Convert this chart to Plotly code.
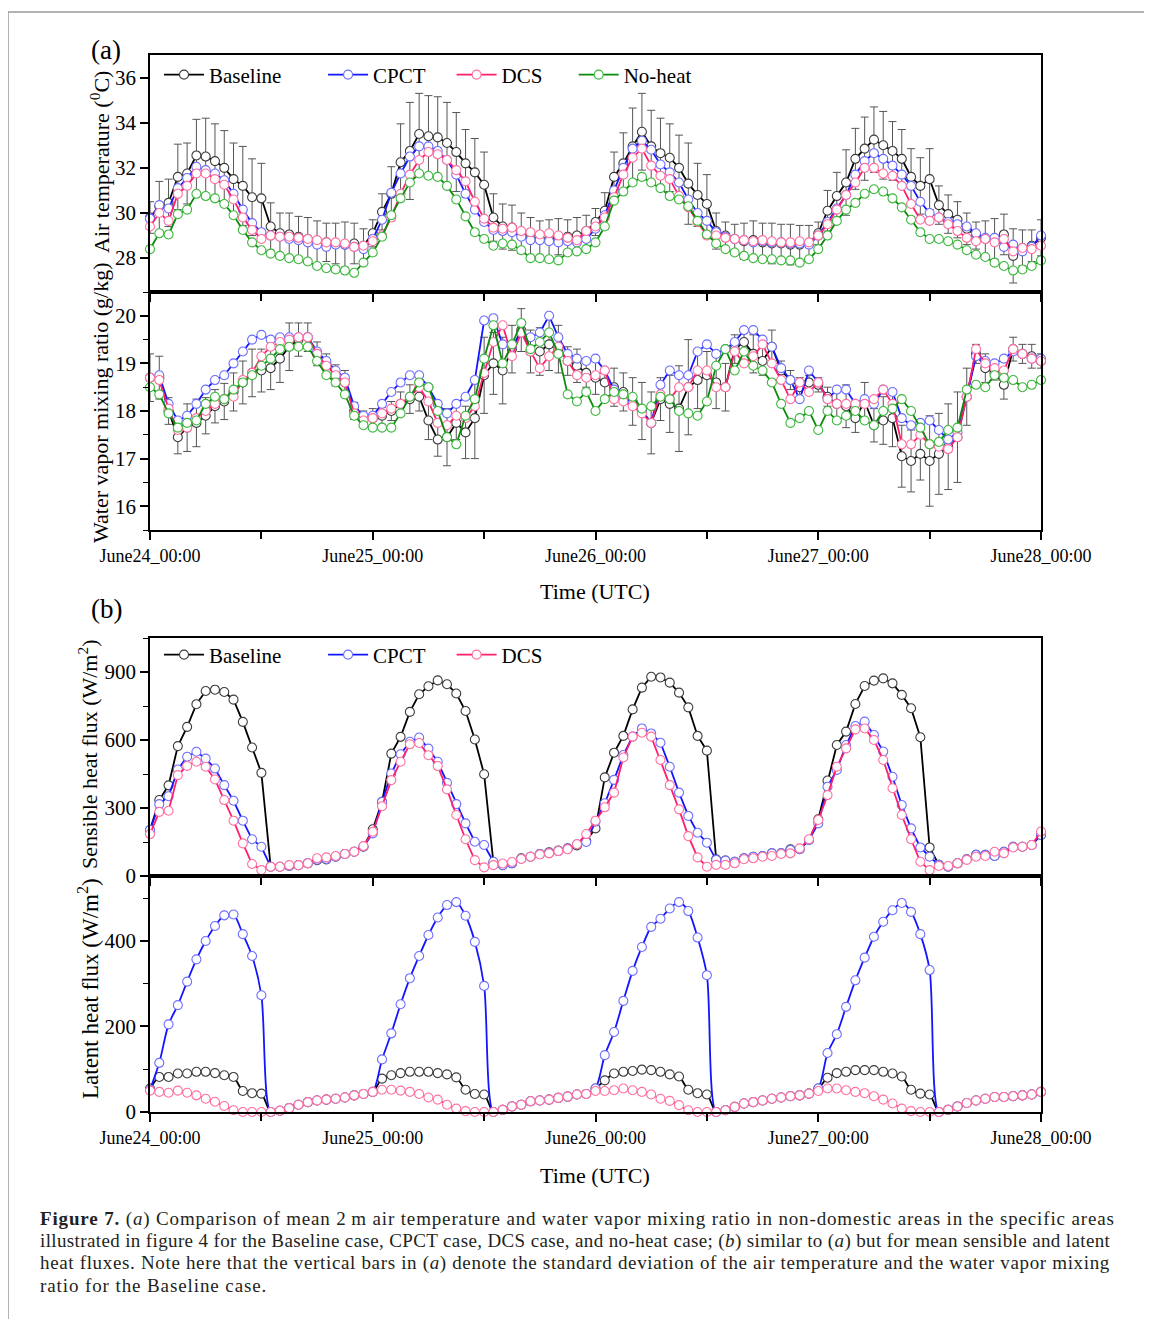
import plotly.graph_objects as go

W, H = 1152, 1319
OFF = 8  # the page body adds an 8 px margin; layout positions below are given in page pixels
SERIF = "Liberation Serif, Times New Roman, serif"

hours = list(range(97))
day_ticks = [0, 24, 48, 72, 96]
half_day_ticks = [12, 36, 60, 84]
day_labels = ["June24_00:00", "June25_00:00", "June26_00:00", "June27_00:00", "June28_00:00"]

# (a) 2 m air temperature (deg C), hourly
temp_baseline = [
    29.8, 30.3, 30.45, 31.6, 31.75, 32.55, 32.5, 32.3, 32.0, 31.5, 31.2, 30.7, 30.65, 29.4, 29.1, 29.05, 28.95, 28.85, 28.7, 28.7, 28.65, 28.6, 28.65, 28.55,
    29.1, 30.05, 30.85, 32.25, 32.75, 33.5, 33.4, 33.35, 33.1, 32.7, 32.2, 31.8, 31.25, 29.8, 29.4, 29.35, 29.1, 28.95, 28.85, 28.85, 28.95, 28.95, 29.0, 29.2,
    29.6, 30.1, 31.6, 32.2, 32.95, 33.6, 32.95, 32.65, 32.45, 32.0, 31.3, 30.8, 30.4, 29.2, 29.0, 28.85, 28.75, 28.8, 28.7, 28.65, 28.65, 28.6, 28.6, 28.65,
    29.1, 30.1, 30.75, 31.35, 32.4, 32.85, 33.25, 33.0, 32.75, 32.4, 31.6, 31.2, 31.5, 30.35, 29.95, 29.7, 29.3, 29.0, 28.85, 28.85, 29.05, 28.1, 28.45, 28.55,
    28.9]
temp_sd = [
    0.7, 1.1, 1.05, 1.45, 1.35, 1.6, 1.7, 1.65, 1.65, 1.6, 1.75, 1.7, 1.55, 1.05, 0.9, 0.95, 0.9, 0.95, 0.95, 0.85, 0.9, 1.0, 0.9, 0.75,
    0.6, 0.8, 1.2, 1.7, 2.15, 1.8, 1.8, 1.8, 1.8, 1.75, 1.5, 1.5, 1.45, 1.05, 1.0, 1.0, 0.9, 0.85, 0.8, 0.85, 0.8, 0.75, 0.8, 0.7,
    0.6, 0.8, 1.1, 1.35, 1.7, 1.7, 1.6, 1.55, 1.5, 1.45, 1.8, 1.4, 1.3, 0.8, 0.6, 0.65, 0.8, 0.85, 0.85, 0.9, 0.85, 0.9, 0.85, 0.8,
    0.5, 0.9, 1.05, 1.45, 1.35, 1.4, 1.45, 1.5, 1.3, 1.3, 1.25, 1.25, 1.35, 0.85, 0.85, 0.8, 0.7, 0.6, 0.8, 0.9, 0.9, 1.2, 0.8, 0.7,
    0.8]
temp_cpct = [
    29.75, 30.35, 30.2, 31.1, 31.55, 32.05, 31.9, 31.75, 31.45, 30.85, 30.15, 29.55, 29.15, 29.0, 28.95, 28.85, 28.8, 28.7, 28.6, 28.5, 28.6, 28.6, 28.5, 28.4,
    28.85, 29.7, 30.9, 31.75, 32.5, 32.95, 32.95, 32.75, 32.35, 31.7, 30.85, 30.15, 29.6, 29.25, 29.2, 29.15, 28.95, 28.8, 28.8, 28.75, 28.7, 28.75, 28.7, 28.85,
    29.3, 29.9, 31.0, 32.0, 32.85, 33.2, 32.8, 32.15, 31.8, 31.35, 30.6, 30.0, 29.65, 29.15, 28.95, 28.85, 28.8, 28.7, 28.75, 28.7, 28.7, 28.65, 28.65, 28.6,
    29.0, 29.6, 30.2, 30.8, 31.7, 32.3, 32.65, 32.4, 32.1, 31.7, 31.2, 30.5, 30.0, 29.8, 29.6, 29.5, 29.4, 29.1, 28.9, 28.9, 28.5, 28.6, 28.3, 28.5,
    29.0]
temp_dcs = [
    29.4, 30.0, 29.65, 30.85, 31.2, 31.75, 31.75, 31.5, 31.25, 30.6, 29.8, 29.25, 28.85, 29.0, 28.95, 28.95, 28.9, 28.85, 28.8, 28.7, 28.7, 28.65, 28.5, 28.55,
    28.75, 29.0, 29.8, 30.85, 31.7, 32.35, 32.7, 32.6, 32.35, 31.9, 31.4, 30.5, 29.75, 29.35, 29.3, 29.35, 29.2, 29.15, 29.05, 29.1, 29.0, 28.9, 28.8, 29.2,
    29.4, 29.8, 30.7, 31.7, 32.45, 32.85, 32.1, 31.65, 31.5, 30.75, 30.25, 29.6, 29.0, 29.0, 28.9, 28.85, 28.8, 28.75, 28.8, 28.75, 28.7, 28.7, 28.75, 28.7,
    29.0, 29.5, 30.15, 30.8, 31.35, 32.0, 32.0, 31.75, 31.65, 31.2, 30.4, 29.7, 29.65, 29.8, 29.5, 29.2, 28.9, 28.75, 28.85, 28.7, 28.85, 28.3, 28.45, 28.4,
    28.55]
temp_noheat = [
    28.4, 29.1, 29.05, 29.95, 30.15, 30.85, 30.75, 30.65, 30.4, 29.9, 29.25, 28.7, 28.35, 28.2, 28.1, 28.0, 27.95, 27.85, 27.65, 27.55, 27.5, 27.45, 27.35, 27.8,
    28.25, 28.95, 29.9, 30.65, 31.35, 31.75, 31.65, 31.6, 31.2, 30.6, 29.85, 29.15, 28.85, 28.55, 28.65, 28.6, 28.35, 28.0, 28.0, 27.95, 27.9, 28.25, 28.3, 28.4,
    28.7, 29.4, 30.55, 30.95, 31.35, 31.6, 31.35, 31.1, 30.75, 30.6, 30.3, 29.65, 29.05, 28.65, 28.4, 28.25, 28.1, 28.0, 27.95, 27.95, 27.9, 27.9, 27.8, 27.95,
    28.4, 29.0, 29.65, 30.15, 30.45, 30.85, 31.05, 30.95, 30.65, 30.25, 29.7, 29.15, 28.85, 28.85, 28.75, 28.6, 28.35, 28.15, 28.05, 27.8, 27.65, 27.45, 27.5, 27.65,
    27.9]

# (a) water vapor mixing ratio (g/kg), hourly
mix_baseline = [
    18.7, 18.7, 18.0, 17.45, 17.65, 17.75, 17.9, 18.1, 18.2, 18.4, 18.6, 18.8, 18.85, 18.9, 19.1, 19.35, 19.5, 19.55, 19.2, 19.0, 18.75, 18.6, 18.0, 17.85,
    17.85, 17.9, 18.0, 18.15, 18.25, 18.3, 17.8, 17.4, 17.45, 17.75, 17.55, 17.85, 18.75, 19.0, 18.85, 19.3, 19.7, 19.25, 19.25, 19.4, 19.3, 19.05, 18.95, 18.8,
    18.7, 18.6, 18.5, 18.4, 18.2, 18.0, 17.75, 18.25, 18.15, 18.05, 18.5, 18.65, 18.75, 18.6, 18.5, 19.3, 19.45, 19.2, 19.05, 19.35, 18.85, 18.65, 18.5, 18.6,
    18.55, 18.3, 18.15, 18.1, 17.85, 18.2, 17.7, 17.8, 17.85, 17.05, 16.95, 17.1, 16.95, 17.1, 17.25, 17.45, 18.3, 19.2, 18.9, 18.8, 18.55, 19.3, 19.2, 19.15,
    19.05]
mix_sd = [
    0.5, 0.45, 0.28, 0.35, 0.5, 0.5, 0.38, 0.35, 0.38, 0.4, 0.45, 0.5, 0.45, 0.45, 0.5, 0.5, 0.35, 0.3, 0.25, 0.2, 0.22, 0.25, 0.18, 0.15,
    0.2, 0.18, 0.2, 0.25, 0.3, 0.3, 0.4, 0.35, 0.6, 0.35, 0.55, 0.85, 0.8, 0.65, 0.7, 0.5, 0.45, 0.45, 0.5, 0.55, 0.5, 0.3, 0.35, 0.3,
    0.35, 0.3, 0.4, 0.4, 0.5, 0.6, 0.65, 0.45, 0.6, 0.9, 1.0, 0.6, 0.5, 0.55, 0.5, 0.3, 0.2, 0.4, 0.3, 0.35, 0.2, 0.2, 0.2, 0.15,
    0.15, 0.2, 0.3, 0.45, 0.3, 0.4, 0.35, 0.5, 0.6, 0.65, 0.65, 0.55, 0.95, 0.85, 0.9, 0.95, 0.6, 0.2, 0.3, 0.15, 0.3, 0.25, 0.2, 0.25,
    0.15]
mix_cpct = [
    18.7, 18.75, 18.15, 17.8, 17.9, 18.15, 18.45, 18.65, 18.75, 19.0, 19.25, 19.5, 19.6, 19.5, 19.55, 19.55, 19.55, 19.55, 19.25, 19.05, 18.85, 18.7, 18.1, 17.9,
    17.9, 18.15, 18.4, 18.6, 18.75, 18.75, 18.5, 18.15, 17.95, 18.15, 18.3, 18.65, 19.9, 19.95, 19.4, 19.35, 19.65, 19.55, 19.65, 20.0, 19.55, 19.2, 19.1, 19.05,
    19.1, 18.85, 18.45, 18.3, 18.15, 18.0, 17.75, 18.55, 18.85, 18.75, 18.75, 19.25, 19.4, 19.2, 19.3, 19.45, 19.7, 19.7, 19.5, 19.35, 18.9, 18.65, 18.25, 18.85,
    18.6, 18.25, 18.45, 18.45, 18.15, 18.25, 18.15, 18.45, 18.4, 17.85, 17.7, 17.75, 17.8, 17.6, 17.4, 17.55, 18.3, 19.15, 19.05, 19.0, 19.1, 19.25, 19.2, 19.1,
    19.1]
mix_dcs = [
    18.7, 18.65, 18.05, 17.6, 17.65, 17.85, 18.0, 18.15, 18.25, 18.3, 18.65, 18.8, 19.15, 19.35, 19.45, 19.5, 19.55, 19.55, 19.2, 18.95, 18.75, 18.6, 17.95, 17.8,
    17.85, 17.95, 18.05, 18.15, 18.3, 18.5, 18.2, 17.75, 17.7, 17.9, 17.85, 18.1, 18.8, 19.45, 19.8, 19.15, 19.65, 19.25, 18.9, 19.15, 19.35, 19.05, 18.75, 18.7,
    18.75, 18.85, 18.25, 18.2, 18.1, 17.95, 17.75, 18.35, 18.25, 18.5, 18.5, 18.85, 18.85, 18.5, 18.5, 19.25, 19.0, 19.15, 19.4, 19.0, 18.65, 18.25, 18.6, 18.4,
    18.6, 18.25, 18.15, 18.15, 18.15, 18.15, 18.25, 18.45, 18.15, 17.3, 17.3, 17.5, 17.3, 17.25, 17.2, 17.45, 18.3, 19.3, 19.0, 18.9, 18.85, 19.3, 19.2, 19.1,
    19.05]
mix_noheat = [
    18.5, 18.35, 17.95, 17.65, 17.75, 17.8, 18.15, 18.3, 18.25, 18.45, 18.6, 18.75, 18.95, 19.1, 19.3, 19.35, 19.35, 19.35, 19.05, 18.75, 18.6, 18.35, 17.9, 17.7,
    17.65, 17.65, 17.65, 17.95, 18.3, 18.6, 18.5, 18.0, 17.45, 17.3, 17.9, 18.25, 19.1, 19.8, 19.0, 19.4, 19.85, 19.3, 19.45, 19.65, 19.2, 18.35, 18.2, 18.4,
    18.0, 18.25, 18.4, 18.35, 18.3, 18.05, 18.1, 18.3, 18.25, 18.0, 17.95, 17.9, 18.2, 18.95, 19.3, 18.85, 19.25, 18.95, 18.85, 18.6, 18.15, 17.75, 17.85, 18.0,
    17.6, 18.0, 17.8, 17.9, 18.0, 17.8, 17.7, 18.0, 18.05, 18.25, 18.0, 17.65, 17.3, 17.35, 17.6, 17.65, 18.45, 18.55, 18.5, 18.75, 18.7, 18.65, 18.5, 18.55,
    18.65]

# (b) sensible heat flux (W/m2), hourly
sens_baseline = [
    203, 335, 400, 573, 658, 758, 816, 822, 812, 778, 680, 567, 455, 41, 41, 44, 48, 56, 70, 73, 85, 97, 107, 129,
    206, 327, 540, 614, 724, 802, 837, 863, 846, 805, 728, 602, 449, 59, 48, 56, 78, 85, 97, 105, 112, 122, 135, 155,
    210, 435, 544, 618, 735, 831, 879, 876, 853, 809, 744, 618, 553, 74, 68, 63, 78, 85, 88, 100, 100, 118, 118, 159,
    250, 421, 578, 637, 759, 838, 862, 872, 850, 799, 740, 612, 126, 49, 41, 56, 74, 93, 93, 88, 107, 129, 129, 137,
    181]
sens_cpct = [
    203, 317, 352, 470, 526, 548, 518, 474, 401, 332, 244, 162, 129, 41, 41, 44, 48, 56, 72, 75, 85, 97, 107, 130,
    188, 327, 452, 537, 592, 611, 562, 504, 411, 317, 232, 151, 137, 63, 48, 56, 76, 85, 97, 102, 110, 120, 140, 150,
    240, 321, 424, 534, 615, 651, 629, 588, 482, 368, 265, 191, 147, 71, 68, 63, 78, 85, 88, 100, 100, 115, 118, 159,
    232, 394, 468, 578, 662, 681, 622, 549, 438, 313, 210, 126, 85, 49, 41, 56, 74, 93, 93, 88, 107, 129, 129, 137,
    181]
sens_dcs = [
    185, 283, 288, 445, 486, 504, 482, 426, 335, 244, 144, 53, 26, 41, 41, 48, 48, 56, 78, 82, 88, 97, 107, 132,
    195, 308, 423, 504, 581, 587, 533, 485, 382, 269, 162, 70, 38, 48, 55, 62, 75, 85, 95, 100, 110, 118, 140, 185,
    244, 303, 368, 523, 615, 632, 615, 512, 401, 294, 176, 82, 41, 49, 49, 56, 74, 78, 85, 88, 97, 100, 122, 162,
    247, 357, 482, 563, 647, 651, 600, 512, 387, 269, 162, 63, 26, 44, 44, 56, 71, 85, 88, 107, 100, 126, 129, 137,
    196]

# (b) latent heat flux (W/m2), hourly
lat_baseline = [
    55, 82, 82, 90, 90, 94, 94, 91, 86, 82, 49, 44, 43, 0, 3, 9, 17, 23, 27, 29, 31, 34, 39, 42,
    47, 78, 86, 91, 94, 94, 94, 91, 88, 81, 52, 42, 41, 0, 5, 13, 17, 25, 27, 29, 33, 36, 41, 42,
    55, 74, 90, 94, 96, 99, 98, 94, 88, 83, 52, 44, 41, 0, 4, 12, 20, 23, 27, 31, 34, 37, 39, 43,
    55, 80, 91, 94, 98, 98, 98, 94, 90, 83, 52, 43, 41, 0, 5, 13, 21, 27, 31, 35, 35, 37, 39, 41,
    47]
lat_cpct = [
    52, 115, 205, 250, 305, 357, 400, 435, 460, 462, 416, 365, 273, 0, 3, 9, 17, 23, 27, 29, 31, 34, 39, 42,
    47, 123, 184, 252, 313, 365, 414, 455, 484, 491, 459, 398, 295, 0, 5, 13, 17, 25, 27, 29, 33, 36, 41, 42,
    55, 133, 187, 260, 330, 386, 433, 452, 476, 491, 470, 408, 320, 0, 4, 12, 20, 23, 27, 31, 34, 37, 39, 43,
    55, 138, 182, 246, 308, 361, 410, 445, 472, 489, 468, 416, 332, 0, 5, 13, 21, 27, 31, 35, 35, 37, 39, 41,
    47]
lat_dcs = [
    50, 47, 45, 50, 45, 39, 31, 24, 14, 4, 0, 0, 0, 0, 3, 9, 17, 23, 27, 29, 31, 34, 39, 42,
    47, 52, 52, 50, 47, 42, 34, 29, 17, 8, 2, 0, 0, 0, 5, 13, 17, 25, 27, 29, 33, 36, 41, 42,
    49, 49, 51, 55, 51, 47, 41, 31, 26, 16, 4, 0, 0, 0, 4, 12, 20, 23, 27, 31, 34, 37, 39, 43,
    49, 55, 55, 51, 47, 44, 37, 29, 20, 8, 2, 0, 0, 0, 5, 13, 21, 27, 31, 35, 35, 37, 39, 41,
    47]

caption_lines = [
    "<b>Figure 7.</b> (<i>a</i>) Comparison of mean 2\u2009m air temperature and water vapor mixing ratio in non-domestic areas in the specific areas",
    "illustrated in figure 4 for the Baseline case, CPCT case, DCS case, and no-heat case; (<i>b</i>) similar to (<i>a</i>) but for mean sensible and latent",
    "heat fluxes. Note here that the vertical bars in (<i>a</i>) denote the standard deviation of the air temperature and the water vapor mixing",
    "ratio for the Baseline case.",
]
caption_spacing = [0.85, 0.37, 0.66, 0.9]  # px letter-spacing so lines 1-3 fill the justified width

# line colour, marker edge colour, trailing room in the legend
styles = {
    "Baseline": ("#000000", "#3c3c3c", 7),
    "CPCT": ("#1414ff", "#6e6eff", 4),
    "DCS": ("#ff1f6e", "#ff70a2", 5),
    "No-heat": ("#0b8a0b", "#3db83d", 0),
}


def pxx(p):
    return (p - OFF) / W


def py(p):
    # pixel row from top -> paper fraction
    return 1 - (p - OFF) / H


fig = go.Figure()


def add(name, y, ax, legend=None, err=None, shape="linear"):
    line_c, edge_c, pad = styles[name]
    tr = go.Scatter(
        x=hours, y=y, name=name + "\u00a0" * pad, mode="lines+markers",
        xaxis="x" + ax, yaxis="y" + ax,
        line=dict(color=line_c, width=1.8, shape=shape, smoothing=0.8),
        marker=dict(symbol="circle", size=9, color="white", line=dict(color=edge_c, width=1.1)),
        showlegend=legend is not None, legend=legend or "legend",
        cliponaxis=False,
    )
    if err is not None:
        tr.error_y = dict(type="data", array=err, visible=True, color="#555555", thickness=1, width=4)
    fig.add_trace(tr)


add("Baseline", temp_baseline, "", "legend", temp_sd)
add("CPCT", temp_cpct, "", "legend")
add("DCS", temp_dcs, "", "legend")
add("No-heat", temp_noheat, "", "legend")

add("Baseline", mix_baseline, "2", None, mix_sd)
add("CPCT", mix_cpct, "2")
add("DCS", mix_dcs, "2")
add("No-heat", mix_noheat, "2")

add("Baseline", sens_baseline, "3", "legend2")
add("CPCT", sens_cpct, "3", "legend2")
add("DCS", sens_dcs, "3", "legend2")

add("Baseline", lat_baseline, "4", shape="spline")
add("CPCT", lat_cpct, "4", shape="spline")
add("DCS", lat_dcs, "4", shape="spline")

xdom = [pxx(150), pxx(1041)]


def xaxis(anchor, labels):
    return dict(
        domain=xdom, range=[0, 96], anchor=anchor, automargin=False,
        tickmode="array", tickvals=day_ticks, ticktext=day_labels,
        showticklabels=labels, ticks="outside", ticklen=8, tickwidth=1.6, tickcolor="black",
        minor=dict(tickmode="array", tickvals=half_day_ticks, ticks="outside", ticklen=7,
                   tickwidth=1.6, tickcolor="black"),
        showline=True, linecolor="black", linewidth=1.8, mirror=True,
        showgrid=False, zeroline=False, tickfont=dict(family=SERIF, size=18, color="black"),
    )


def yaxis(anchor, top, bottom, rng, dtick, tick0, minor=None):
    d = dict(
        domain=[py(bottom), py(top)], range=rng, anchor=anchor, automargin=False,
        tickmode="linear", dtick=dtick, tick0=tick0,
        ticks="outside", ticklen=8, tickwidth=1.6, tickcolor="black",
        showline=True, linecolor="black", linewidth=1.8, mirror=True,
        showgrid=False, zeroline=False, tickfont=dict(family=SERIF, size=21, color="black"),
    )
    if minor:
        d["minor"] = dict(dtick=minor, ticks="outside", ticklen=5, tickwidth=1.4, tickcolor="black")
    return d


legend_common = dict(
    orientation="h", xanchor="left", yanchor="middle", bgcolor="rgba(0,0,0,0)",
    font=dict(family=SERIF, size=21, color="black"), itemwidth=40, tracegroupgap=0,
)

annotations = [
    dict(text="(a)", x=pxx(89), y=py(50), xanchor="left", yanchor="middle", font=dict(size=27)),
    dict(text="(b)", x=pxx(89), y=py(609), xanchor="left", yanchor="middle", font=dict(size=27)),
    dict(text="Air temperature (<sup>0</sup>C)", x=pxx(100), y=py(162), textangle=-90,
         xanchor="center", yanchor="middle", font=dict(size=22)),
    dict(text="Water vapor mixing ratio (g/kg)", x=pxx(100), y=py(403), textangle=-90,
         xanchor="center", yanchor="middle", font=dict(size=22)),
    dict(text="Sensible heat flux (W/m<sup>2</sup>)", x=pxx(88), y=py(755), textangle=-90,
         xanchor="center", yanchor="middle", font=dict(size=22)),
    dict(text="Latent heat flux (W/m<sup>2</sup>)", x=pxx(88), y=py(989), textangle=-90,
         xanchor="center", yanchor="middle", font=dict(size=23)),
    dict(text="Time (UTC)", x=pxx(595), y=py(591), xanchor="center", yanchor="middle", font=dict(size=22)),
    dict(text="Time (UTC)", x=pxx(595), y=py(1175), xanchor="center", yanchor="middle", font=dict(size=22)),
]
for i, (line, ls) in enumerate(zip(caption_lines, caption_spacing)):
    annotations.append(dict(text=f'<span style="letter-spacing:{ls}px">{line}</span>',
                            x=pxx(38), y=py(1219 + 22 * i), xanchor="left", yanchor="middle",
                            font=dict(size=19, color="#231f20")))
for a in annotations:
    a.update(xref="paper", yref="paper", showarrow=False)
    a["font"] = dict(family=SERIF, color=a["font"].get("color", "black"), size=a["font"]["size"])

fig.update_layout(
    width=W, height=H, autosize=False,
    margin=dict(l=0, r=0, t=0, b=0, autoexpand=False),
    paper_bgcolor="white", plot_bgcolor="white",
    font=dict(family=SERIF, color="black"),
    xaxis=xaxis("y", False),
    yaxis=yaxis("x", 55, 292, [26.5, 37], 2, 28),
    xaxis2=xaxis("y2", True),
    yaxis2=yaxis("x2", 292, 530, [15.5, 20.5], 1, 16, 0.5),
    xaxis3=xaxis("y3", False),
    yaxis3=yaxis("x3", 638, 876, [0, 1050], 300, 0, 150),
    xaxis4=xaxis("y4", True),
    yaxis4=yaxis("x4", 876, 1112, [0, 552], 200, 0, 100),
    legend=dict(legend_common, x=pxx(159), y=py(75)),
    legend2=dict(legend_common, x=pxx(159), y=py(655)),
    annotations=annotations,
    shapes=[
        dict(type="line", xref="paper", yref="paper", x0=pxx(8), x1=1, y0=py(12), y1=py(12),
             line=dict(color="#9a9a9a", width=1.5)),
        dict(type="line", xref="paper", yref="paper", x0=pxx(8), x1=pxx(8), y0=py(12), y1=0,
             line=dict(color="#9a9a9a", width=1.5)),
    ],
    showlegend=True,
)

fig.write_html("out.html")
